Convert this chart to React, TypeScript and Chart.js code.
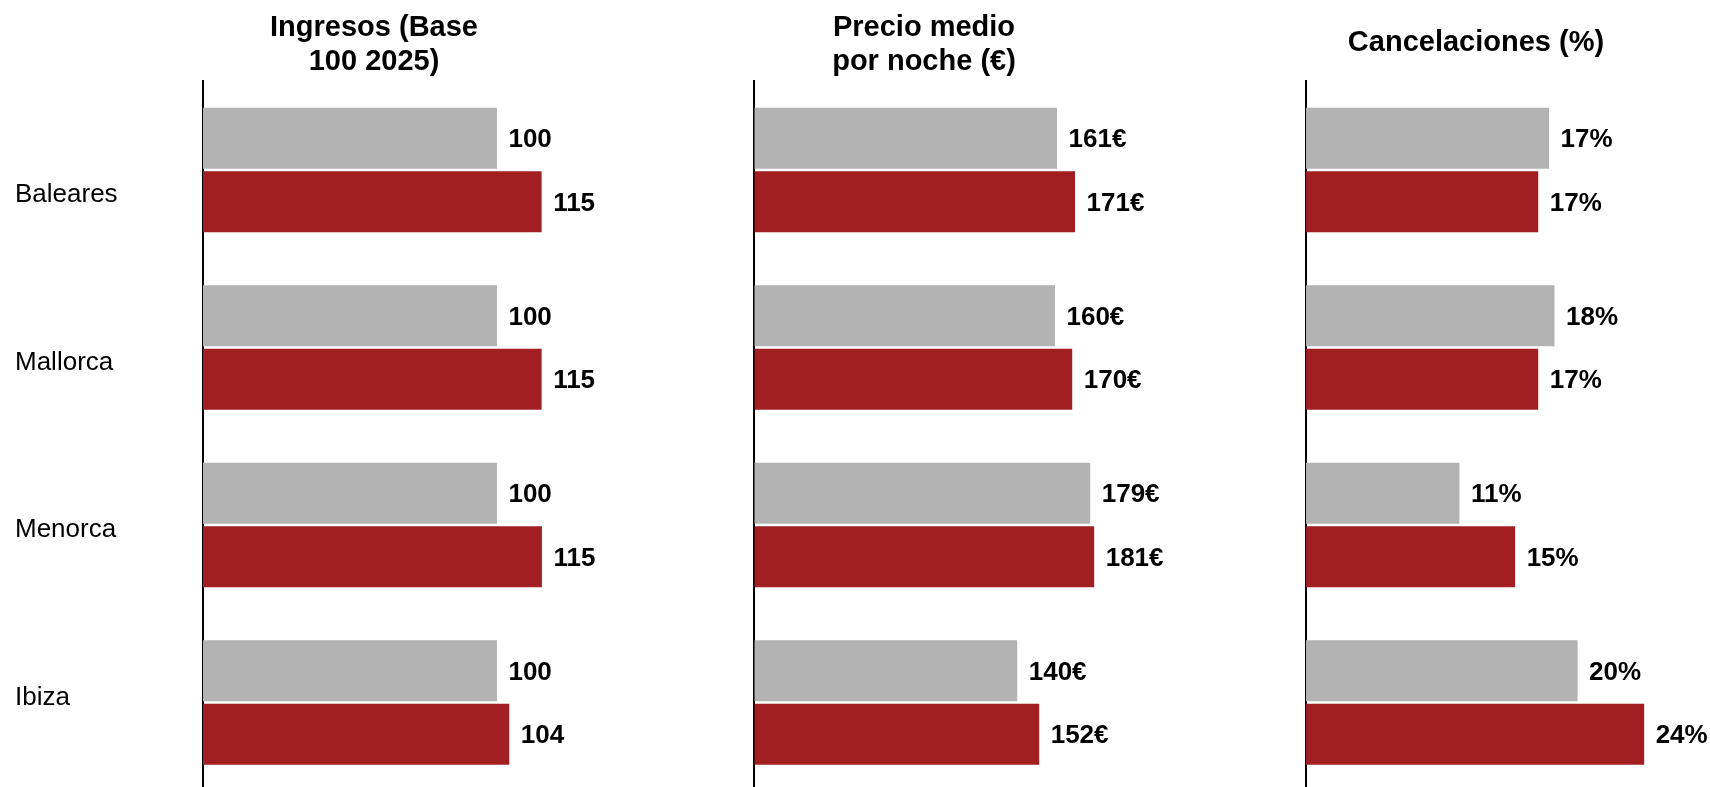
import React, { useEffect, useRef } from 'react';
import { Chart, registerables } from 'chart.js';

Chart.register(...registerables);

// ---- data ----
const categories = ['Baleares', 'Mallorca', 'Menorca', 'Ibiza'];

const ingresosPrev = [100, 100, 100, 100];
const ingresosCurr = [115.2, 115.2, 115.3, 104.2];
const ingresosPrevLabels = ['100', '100', '100', '100'];
const ingresosCurrLabels = ['115', '115', '115', '104'];

const precioPrev = [161.3, 160.2, 179.0, 140.1];
const precioCurr = [170.9, 169.4, 181.1, 151.8];
const precioPrevLabels = ['161€', '160€', '179€', '140€'];
const precioCurrLabels = ['171€', '170€', '181€', '152€'];

const cancelPrev = [17.9, 18.3, 11.3, 20.0];
const cancelCurr = [17.1, 17.1, 15.4, 24.9];
const cancelPrevLabels = ['17%', '18%', '11%', '20%'];
const cancelCurrLabels = ['17%', '17%', '15%', '24%'];

const titleIngresos = ['Ingresos (Base', '100 2025)'];
const titlePrecio = ['Precio medio', 'por noche (€)'];
const titleCancel = 'Cancelaciones (%)';

// ---- styling ----
const FONT = '"Liberation Sans", Arial, Helvetica, sans-serif';
const GRAY = '#b3b3b3';
const RED = '#a11f22';
const CANVAS_H = 795;
const AREA_BOTTOM = 791.25;

const valueLabelPlugin = {
  id: 'valueLabels',
  afterDatasetsDraw(chart: any) {
    const ctx = chart.ctx;
    ctx.save();
    ctx.font = `bold 26px ${FONT}`;
    ctx.fillStyle = '#000';
    ctx.textAlign = 'left';
    ctx.textBaseline = 'middle';
    chart.data.datasets.forEach((ds: any, i: number) => {
      const meta = chart.getDatasetMeta(i);
      meta.data.forEach((el: any, j: number) => {
        ctx.fillText(ds.valueLabels[j], el.x + 11.5, el.y + 2);
      });
    });
    ctx.restore();
  },
};

type PanelProps = {
  left: number;
  width: number;
  padLeft: number;
  axisWidth: number;
  max: number;
  title: string | string[];
  titlePadTop: number;
  titlePadBottom: number;
  showCategories: boolean;
  prev: number[];
  curr: number[];
  prevLabels: string[];
  currLabels: string[];
};

function Panel(p: PanelProps) {
  const ref = useRef<HTMLCanvasElement>(null);
  useEffect(() => {
    if (!ref.current) return;
    const chart = new Chart(ref.current, {
      type: 'bar',
      data: {
        labels: categories,
        datasets: [
          {
            data: p.prev,
            backgroundColor: GRAY,
            borderWidth: 0,
            categoryPercentage: 0.7155,
            barPercentage: 0.96,
            xAxisID: 'x',
            yAxisID: 'y',
            valueLabels: p.prevLabels,
          } as any,
          {
            data: p.curr,
            backgroundColor: RED,
            borderWidth: 0,
            categoryPercentage: 0.7155,
            barPercentage: 0.96,
            xAxisID: 'x',
            yAxisID: 'y',
            valueLabels: p.currLabels,
          } as any,
        ],
      },
      options: {
        indexAxis: 'y',
        animation: false,
        responsive: false,
        maintainAspectRatio: false,
        layout: {
          padding: { left: p.padLeft, right: 0, top: 0, bottom: CANVAS_H - AREA_BOTTOM },
        },
        plugins: {
          legend: { display: false },
          tooltip: { enabled: false },
          title: {
            display: true,
            text: p.title,
            color: '#000',
            font: { family: FONT, size: 29, weight: 'bold', lineHeight: 34 / 29 },
            padding: { top: p.titlePadTop, bottom: p.titlePadBottom },
          },
        },
        scales: {
          x: { display: false, min: 0, max: p.max },
          y: { type: 'category', display: false },
          yl: {
            type: 'linear',
            position: 'left',
            reverse: true,
            offset: false,
            min: -0.6787,
            max: 3.557,
            weight: 1,
            z: 1,
            afterBuildTicks: (s: any) => {
              s.ticks = categories.map((_, i) => ({ value: i }));
            },
            afterFit: (s: any) => {
              s.width = p.axisWidth;
              s.paddingTop = 0;
              s.paddingBottom = 0;
            },
            grid: { display: false, offset: false },
            border: { display: true, color: '#000', width: 2 },
            ticks: {
              display: p.showCategories,
              crossAlign: 'far',
              color: '#000',
              autoSkip: false,
              font: { family: FONT, size: 26 },
              callback: (v: any) => categories[v as number] ?? '',
            },
          },
        } as any,
      },
      plugins: [valueLabelPlugin],
    });
    return () => chart.destroy();
  }, []);
  return (
    <canvas
      ref={ref}
      width={p.width}
      height={CANVAS_H}
      style={{ position: 'absolute', left: p.left, top: 0, width: p.width, height: CANVAS_H }}
    />
  );
}

export default function App() {
  return (
    <div
      style={{
        position: 'absolute',
        left: 0,
        top: 0,
        width: 1710,
        height: 787,
        overflow: 'hidden',
        background: '#fff',
      }}
    >
      <Panel
        left={0}
        width={733}
        padLeft={15}
        axisWidth={188}
        max={180.3}
        title={titleIngresos}
        titlePadTop={10.5}
        titlePadBottom={2.75}
        showCategories={true}
        prev={ingresosPrev}
        curr={ingresosCurr}
        prevLabels={ingresosPrevLabels}
        currLabels={ingresosCurrLabels}
      />
      <Panel
        left={678}
        width={492}
        padLeft={0}
        axisWidth={76.3}
        max={221.5}
        title={titlePrecio}
        titlePadTop={10.5}
        titlePadBottom={2.75}
        showCategories={false}
        prev={precioPrev}
        curr={precioCurr}
        prevLabels={precioPrevLabels}
        currLabels={precioCurrLabels}
      />
      <Panel
        left={1242}
        width={468}
        padLeft={0}
        axisWidth={64}
        max={29.75}
        title={titleCancel}
        titlePadTop={26.2}
        titlePadBottom={21.05}
        showCategories={false}
        prev={cancelPrev}
        curr={cancelCurr}
        prevLabels={cancelPrevLabels}
        currLabels={cancelCurrLabels}
      />
    </div>
  );
}
